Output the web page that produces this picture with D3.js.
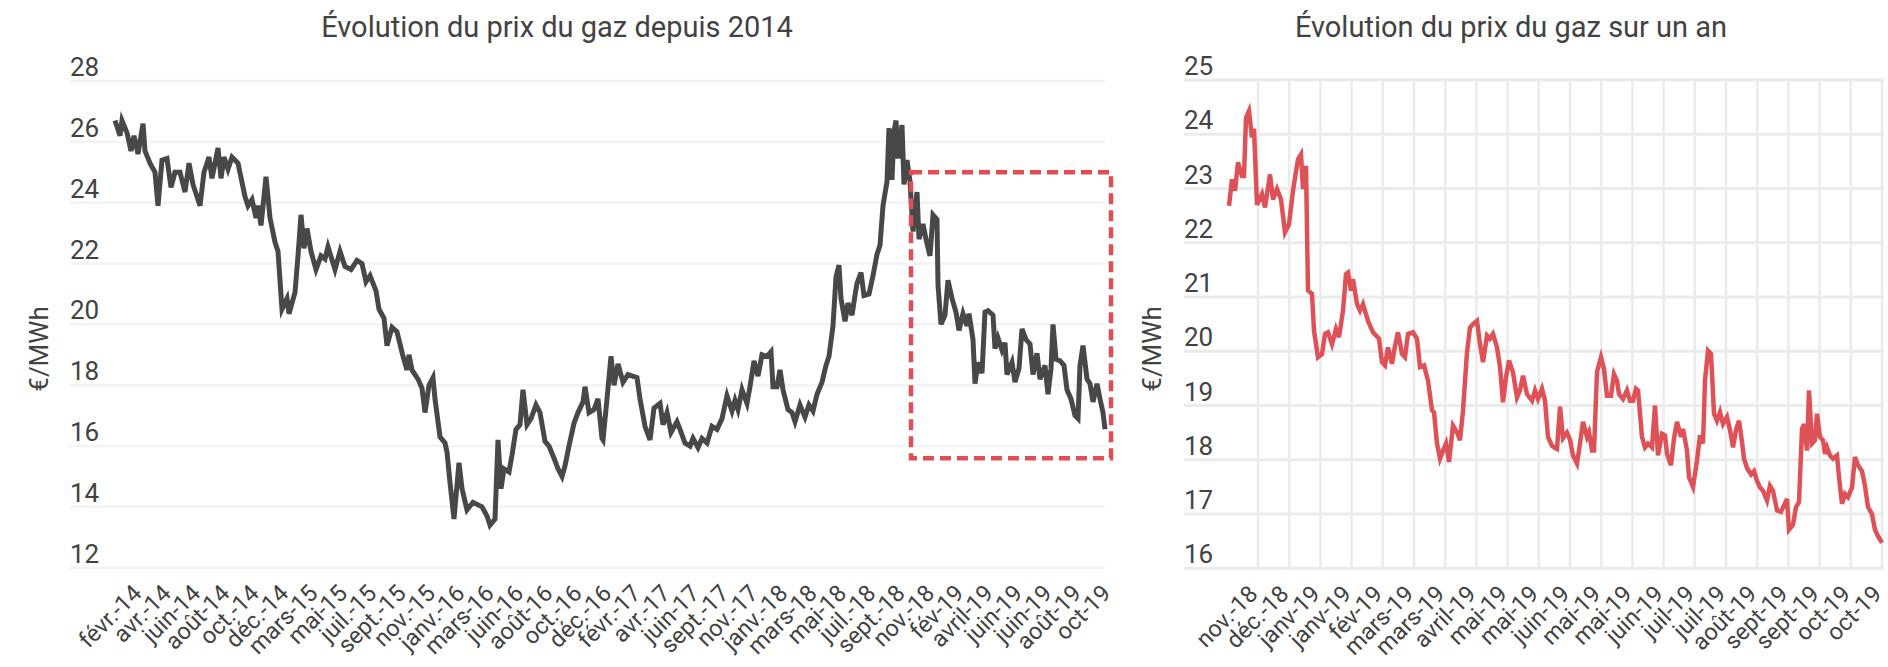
<!DOCTYPE html>
<html>
<head>
<meta charset="utf-8">
<script src="https://cdn.jsdelivr.net/npm/d3@7"></script>
<style>
  body { margin: 0; background: #fff; }
  svg { display: block; font-family: Roboto, sans-serif; }
</style>
</head>
<body>
<svg width="1888" height="667"></svg>
<script>
// prix du gaz depuis 2014 (index de séance, €/MWh)
var histT = [1, 6, 8, 13, 17, 20, 24, 29, 31, 36, 41, 44, 48, 53, 57, 61, 66, 71, 75, 79, 86, 90, 95, 98, 104, 107, 110, 114, 118, 124,
  131, 134, 138, 142, 144, 147, 152, 156, 161, 164, 168, 173, 175, 181, 184, 187, 190, 193, 197, 202, 207, 211, 214, 221, 226, 231, 237, 243, 248, 252,
  256, 262, 265, 270, 273, 278, 283, 289, 293, 295, 298, 304, 308, 311, 315, 319, 321, 326, 331, 333, 336, 340, 345, 348, 353, 359, 368, 373, 376, 381,
  384, 387, 390, 395, 398, 402, 406, 409, 413, 417, 422, 426, 431, 435, 440, 444, 448, 451, 455, 460, 464, 469, 471, 475, 480, 484, 488, 489, 493, 497,
  500, 504, 509, 514, 523, 526, 531, 536, 540, 546, 549, 553, 557, 563, 566, 571, 576, 579, 584, 588, 593, 598, 603, 608, 610, 613, 618, 621, 624, 628,
  633, 636, 640, 644, 648, 653, 657, 659, 663, 666, 669, 674, 678, 681, 686, 691, 695, 699, 703, 708, 712, 715, 719, 722, 725, 727, 731, 734, 738, 741,
  743, 747, 750, 755, 759, 763, 766, 769, 773, 775, 778, 780, 782, 784, 788, 790, 793, 796, 799, 803, 805, 809, 812, 816, 819, 823, 824, 827, 831, 834,
  838, 842, 845, 849, 853, 855, 859, 861, 864, 868, 871, 874, 879, 881, 884, 888, 891, 893, 898, 901, 905, 908, 912, 916, 919, 923, 926, 931, 934, 937,
  939, 942, 946, 950, 953, 957, 961, 964, 966, 969, 973, 976, 979, 983, 986, 989, 991]
var histPrice = [26.7, 26.2, 26.7, 26.3, 25.7, 26.2, 25.6, 26.6, 25.7, 25.3, 25.0, 23.9, 25.4, 25.45, 24.5, 25.0, 25.0, 24.35, 25.3, 24.6, 23.9, 25.0, 25.5, 24.8, 25.8, 24.8, 25.5, 25.1, 25.5, 25.3,
  24.2, 23.9, 24.1, 23.5, 23.9, 23.25, 24.85, 23.5, 22.7, 22.4, 20.5, 20.85, 20.35, 21.05, 22.25, 23.6, 22.5, 23.15, 22.4, 21.8, 22.25, 22.15, 22.55, 21.8, 22.4, 21.9, 21.8, 22.1, 22.0, 21.4,
  21.6, 21.1, 20.5, 20.2, 19.3, 19.9, 19.75, 18.95, 18.5, 19.0, 18.5, 18.2, 17.9, 17.1, 18.0, 18.25, 17.55, 16.3, 16.1, 15.8, 14.8, 13.6, 15.45, 14.6, 13.9, 14.15, 14.0, 13.7, 13.4, 13.6,
  16.2, 14.6, 15.25, 15.15, 15.7, 16.55, 16.7, 17.85, 16.7, 16.9, 17.35, 17.1, 16.15, 16.0, 15.6, 15.25, 15.0, 15.35, 16.0, 16.75, 17.1, 17.45, 17.95, 17.1, 17.2, 17.55, 16.25, 16.2, 17.55, 18.95,
  18.0, 18.7, 18.1, 18.35, 18.25, 17.55, 16.65, 16.2, 17.25, 17.4, 16.7, 17.1, 16.45, 16.8, 16.55, 16.1, 16.0, 16.25, 15.95, 16.25, 16.1, 16.65, 16.55, 16.9, 17.2, 17.65, 17.15, 17.5, 17.2, 17.85,
  17.4, 17.95, 18.8, 18.3, 19.0, 18.95, 19.1, 17.95, 17.95, 18.5, 17.85, 17.2, 17.1, 16.8, 17.35, 16.95, 17.35, 17.15, 17.7, 18.1, 18.65, 18.95, 19.95, 21.55, 21.95, 20.85, 20.1, 20.7, 20.3, 20.95,
  21.35, 21.7, 20.95, 21.0, 21.6, 22.3, 22.6, 23.9, 24.7, 26.45, 24.75, 26.35, 26.7, 25.45, 26.55, 24.6, 25.4, 24.7, 23.05, 24.35, 22.8, 23.3, 22.8, 22.25, 23.6, 23.45, 21.3, 20.0, 20.3, 21.45,
  20.85, 20.4, 19.8, 20.35, 19.95, 20.35, 19.5, 18.05, 18.75, 18.4, 20.4, 20.45, 20.3, 19.2, 19.55, 19.15, 19.4, 18.35, 18.75, 18.1, 18.55, 19.85, 19.5, 19.35, 18.35, 19.05, 18.2, 18.65, 17.7, 18.55,
  20.0, 18.85, 18.8, 18.65, 17.85, 17.55, 17.0, 16.9, 18.65, 19.3, 18.2, 18.05, 17.45, 18.05, 17.55, 17.1, 16.55]
var histLabels = ['févr.-14', 'avr.-14', 'juin-14', 'août-14', 'oct.-14', 'déc.-14', 'mars-15', 'mai-15', 'juil.-15', 'sept.-15',
  'nov.-15', 'janv.-16', 'mars-16', 'juin-16', 'août-16', 'oct.-16', 'déc.-16', 'févr.-17', 'avr.-17', 'juin-17',
  'sept.-17', 'nov.-17', 'janv.-18', 'mars-18', 'mai-18', 'juil.-18', 'sept.-18', 'nov.-18', 'fév-19', 'avril-19',
  'juin-19', 'juin-19', 'août-19', 'oct-19']
var histTicks = [12, 14, 16, 18, 20, 22, 24, 26, 28]
var histTickRange = [20, 989]
var zoomWindow = {t0: 797, t1: 997, lo: 15.6, hi: 25}

// prix du gaz sur un an
var yearT = [0, 3, 6, 9, 13, 15, 17, 20, 23, 25, 28, 33, 36, 41, 44, 48, 52, 56, 60, 64, 69, 72, 74, 77, 79, 83, 85, 89, 93, 96,
  99, 103, 107, 110, 114, 117, 119, 122, 124, 128, 131, 134, 139, 144, 150, 153, 156, 159, 163, 166, 169, 173, 176, 179, 184, 188, 191, 195, 199, 203,
  205, 208, 211, 214, 217, 220, 224, 228, 231, 234, 238, 241, 244, 248, 251, 254, 258, 261, 264, 268, 271, 274, 277, 280, 284, 288, 291, 294, 298, 303,
  306, 309, 313, 316, 319, 323, 326, 328, 331, 334, 338, 341, 344, 348, 351, 354, 358, 360, 363, 365, 368, 372, 375, 378, 382, 385, 388, 390, 394, 398,
  401, 404, 407, 409, 413, 416, 419, 423, 426, 429, 433, 436, 438, 442, 445, 448, 452, 454, 458, 460, 464, 468, 471, 474, 476, 479, 482, 485, 488, 491,
  494, 498, 501, 504, 507, 510, 513, 515, 518, 522, 525, 528, 531, 534, 538, 541, 544, 548, 552, 555, 558, 560, 564, 567, 570, 573, 575, 578, 580, 583,
  586, 588, 591, 594, 596, 598, 601, 604, 608, 610, 613, 616, 619, 623, 626, 629, 633, 636, 639, 643, 646, 649, 653]
var yearPrice = [22.68, 23.17, 22.96, 23.48, 23.23, 23.23, 24.3, 24.43, 23.94, 24.1, 22.7, 22.9, 22.65, 23.26, 22.8, 22.99, 22.8, 22.19, 22.34, 22.96, 23.54, 23.63, 22.99, 23.42, 21.12, 21.06, 20.38, 19.89, 19.95, 20.32,
  20.35, 20.13, 20.41, 20.26, 20.75, 21.42, 21.45, 21.12, 21.33, 20.87, 20.75, 20.87, 20.56, 20.35, 20.23, 19.8, 19.74, 20.07, 19.77, 20.1, 20.35, 19.95, 19.89, 20.32, 20.35, 20.23, 19.71, 19.74, 19.46, 18.91,
  18.88, 18.3, 18.02, 18.17, 18.3, 17.96, 18.63, 18.51, 18.36, 18.91, 19.98, 20.44, 20.5, 20.56, 20.13, 19.8, 20.29, 20.23, 20.32, 20.07, 19.71, 19.06, 19.52, 19.83, 19.61, 19.15, 19.28, 19.55, 19.21, 19.09,
  19.28, 19.12, 19.31, 19.09, 18.42, 18.26, 18.22, 18.2, 18.98, 18.4, 18.5, 18.37, 18.08, 17.93, 18.3, 18.7, 18.42, 18.51, 18.17, 18.17, 19.62, 19.89, 19.67, 19.18, 19.18, 19.58, 19.46, 19.21, 19.12, 19.28,
  19.09, 19.09, 19.31, 19.28, 18.42, 18.23, 18.3, 18.23, 19.0, 18.08, 18.48, 18.45, 18.11, 17.9, 18.39, 18.7, 18.42, 18.57, 18.17, 17.68, 17.5, 17.99, 18.45, 18.3, 19.46, 20.01, 19.95, 18.85, 18.72, 18.88,
  18.66, 18.79, 18.55, 18.23, 18.55, 18.72, 18.33, 18.02, 17.85, 17.73, 17.79, 17.61, 17.49, 17.43, 17.25, 17.52, 17.43, 17.07, 17.04, 17.16, 17.28, 16.71, 16.8, 17.13, 17.22, 18.57, 18.66, 18.17, 19.28, 18.3,
  18.36, 18.85, 18.42, 18.36, 18.11, 18.23, 18.08, 18.02, 18.08, 17.68, 17.19, 17.37, 17.31, 17.49, 18.05, 17.9, 17.79, 17.52, 17.13, 17.0, 16.71, 16.59, 16.47]
var yearLabels = ['nov.-18', 'déc.-18', 'janv-19', 'janv-19', 'fév-19', 'mars-19', 'mars-19', 'avril-19', 'mai-19', 'mai-19',
  'juin-19', 'mai-19', 'mai-19', 'juin-19', 'juil-19', 'juil-19', 'août-19', 'sept-19', 'sept-19', 'oct-19', 'oct-19']
var yearTicks = [16, 17, 18, 19, 20, 21, 22, 23, 24, 25]
var yearTickRange = [29, 653]

var textColor = '#424242'

var drawPanel = opts => {
  var svg = d3.select('svg')
  var g = svg.append('g')

  var x = d3.scaleLinear().domain(opts.tDomain).range(opts.xRange)
  var y = d3.scaleLinear().domain(d3.extent(opts.yTicks)).range(opts.yRange)
  var xl = d3.scalePoint()
    .domain(d3.range(opts.labels.length))
    .range(opts.tickRange.map(x))

  // grille horizontale
  g.append('g')
    .selectAll('line').data(opts.yTicks).enter().append('line')
    .attr('x1', opts.gridX[0])
    .attr('x2', opts.gridX[1])
    .attr('y1', d => y(d))
    .attr('y2', d => y(d))
    .attr('stroke', opts.gridColor)
    .attr('stroke-width', opts.gridWidth)

  if (opts.vGrid) {
    g.append('g')
      .selectAll('line').data(opts.labels).enter().append('line')
      .attr('x1', (d, i) => xl(i))
      .attr('x2', (d, i) => xl(i))
      .attr('y1', y.range()[1])
      .attr('y2', y.range()[0] + 2)
      .attr('stroke', opts.gridColor)
      .attr('stroke-width', 2.5)
  }

  // libellés axe y
  g.append('g')
    .selectAll('text').data(opts.yTicks).enter().append('text')
    .attr('x', opts.gridX[0])
    .attr('y', d => y(d) - 5)
    .attr('fill', textColor)
    .style('font-size', '26px')
    .text(d => d)

  // libellés axe x
  g.append('g')
    .selectAll('text').data(opts.labels).enter().append('text')
    .attr('transform', (d, i) => `translate(${xl(i) + opts.labelDx}, ${y.range()[0] + 27}) rotate(-45)`)
    .attr('text-anchor', 'end')
    .attr('fill', textColor)
    .style('font-size', '23.5px')
    .text(d => d)

  g.append('text')
    .attr('transform', `translate(${opts.unitX}, 349) rotate(-90)`)
    .attr('text-anchor', 'middle')
    .attr('dy', '0.35em')
    .attr('fill', textColor)
    .style('font-size', '26px')
    .text('€/MWh')

  g.append('text')
    .attr('x', opts.titleX)
    .attr('y', 37)
    .attr('text-anchor', 'middle')
    .attr('fill', textColor)
    .style('font-size', '29px')
    .text(opts.title)

  var line = d3.line()
    .x(d => x(d[0]))
    .y(d => y(d[1]))

  g.append('path')
    .datum(d3.zip(opts.t, opts.values))
    .attr('fill', 'none')
    .attr('stroke', opts.color)
    .attr('stroke-width', opts.lineWidth)
    .attr('stroke-linejoin', 'miter')
    .attr('d', line)

  return {x: x, y: y, g: g}
}

var left = drawPanel({
  t: histT, values: histPrice, labels: histLabels, yTicks: histTicks,
  tDomain: [0, 991], xRange: [114, 1105], yRange: [567.7, 81],
  tickRange: histTickRange, labelDx: 9, gridX: [70, 1105], gridColor: '#f3f3f3', gridWidth: 2.5,
  vGrid: false, color: '#484848', lineWidth: 5, unitX: 39, titleX: 557,
  title: 'Évolution du prix du gaz depuis 2014'
})

drawPanel({
  t: yearT, values: yearPrice, labels: yearLabels, yTicks: yearTicks,
  tDomain: [0, 653], xRange: [1229, 1882], yRange: [568.3, 80],
  tickRange: yearTickRange, labelDx: 1, gridX: [1184, 1884], gridColor: '#ebebeb', gridWidth: 3,
  vGrid: true, color: '#de5257', lineWidth: 4.5, unitX: 1152, titleX: 1511,
  title: 'Évolution du prix du gaz sur un an'
})

// cadre de la période zoomée
left.g.append('rect')
  .attr('x', left.x(zoomWindow.t0))
  .attr('y', left.y(zoomWindow.hi))
  .attr('width', left.x(zoomWindow.t1) - left.x(zoomWindow.t0))
  .attr('height', left.y(zoomWindow.lo) - left.y(zoomWindow.hi))
  .attr('fill', 'none')
  .attr('stroke', '#e04e54')
  .attr('stroke-width', 4.5)
  .attr('stroke-dasharray', '11 6')
</script>
</body>
</html>
